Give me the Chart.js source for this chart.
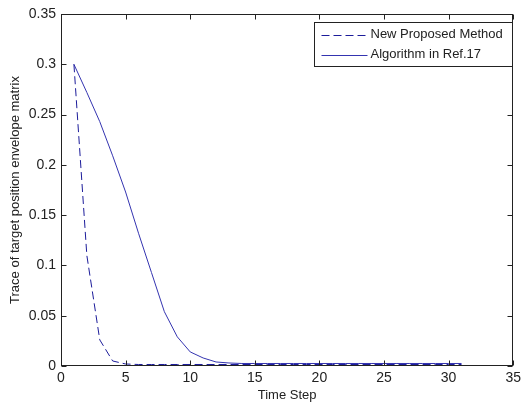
<!DOCTYPE html>
<html>
<head>
<meta charset="utf-8">
<script src="https://cdn.jsdelivr.net/npm/chart.js@4/dist/chart.umd.min.js"></script>
<style>
  html, body { margin: 0; padding: 0; background: #fff; }
  #plot { display: block; }
</style>
</head>
<body>
<canvas id="plot" width="525" height="405"></canvas>
<script>
const timeSteps = [1, 2, 3, 4, 5, 6, 7, 8, 9, 10, 11, 12, 13, 14, 15, 16,
    17, 18, 19, 20, 21, 22, 23, 24, 25, 26, 27, 28, 29, 30, 31];

const proposedTrace = [0.300, 0.110, 0.026, 0.005, 0.002, 0.0015, 0.0015, 0.0015,
    0.0015, 0.0015, 0.0015, 0.0015, 0.0015, 0.0015, 0.0015, 0.0015, 0.0015, 0.0015,
    0.0015, 0.0015, 0.0015, 0.0015, 0.0015, 0.0015, 0.0015, 0.0015, 0.0015, 0.0015,
    0.0015, 0.0015, 0.0015];

const refTrace = [0.300, 0.272, 0.243, 0.209, 0.173, 0.132, 0.093, 0.054, 0.029,
    0.014, 0.008, 0.004, 0.003, 0.0025, 0.0025, 0.0025, 0.0025, 0.0025, 0.0025,
    0.0025, 0.0025, 0.0025, 0.0025, 0.0025, 0.0025, 0.0025, 0.0025, 0.0025, 0.0025,
    0.0025, 0.0025];

const seriesLabels = ['New Proposed Method', 'Algorithm in Ref.17'];
const xTitle = 'Time Step';
const yTitle = 'Trace of target position envelope matrix';

const FONT = 'Arial, "Liberation Sans", Helvetica, sans-serif';
const INK = '#222';

const toPoints = (ys) => timeSteps.map((x, i) => ({ x, y: ys[i] }));

// box around the axes with inward ticks on every side, matlab style
const axesBox = {
    id: 'axesBox',
    afterDatasetsDraw(chart) {
        const { ctx, chartArea: a, scales } = chart;
        const L = Math.round(a.left) + 0.5, R = Math.round(a.right) - 0.5;
        const T = Math.round(a.top) + 0.5, B = Math.round(a.bottom) - 0.5;
        const len = 5;
        ctx.save();
        ctx.strokeStyle = INK;
        ctx.lineWidth = 1;
        ctx.setLineDash([]);
        ctx.strokeRect(L, T, R - L, B - T);
        ctx.beginPath();
        scales.x.ticks.forEach(t => {
            const px = Math.round(scales.x.getPixelForValue(t.value)) + 0.5;
            ctx.moveTo(px, B); ctx.lineTo(px, B - len);
            ctx.moveTo(px, T); ctx.lineTo(px, T + len);
        });
        scales.y.ticks.forEach(t => {
            const py = Math.round(scales.y.getPixelForValue(t.value)) + 0.5;
            ctx.moveTo(L, py); ctx.lineTo(L + len, py);
            ctx.moveTo(R, py); ctx.lineTo(R - len, py);
        });
        ctx.stroke();
        ctx.restore();
    }
};

// boxed legend in the upper right corner of the axes
const boxedLegend = {
    id: 'boxedLegend',
    afterDraw(chart) {
        const { ctx, chartArea: a } = chart;
        const w = 198, h = 44;
        const x0 = Math.round(a.right) - 1 - w + 0.5;
        const y0 = Math.round(a.top) + 8 + 0.5;
        ctx.save();
        ctx.fillStyle = '#fff';
        ctx.fillRect(x0, y0, w, h);
        ctx.strokeStyle = INK;
        ctx.lineWidth = 1;
        ctx.strokeRect(x0, y0, w, h);
        ctx.font = '13px ' + FONT;
        ctx.textBaseline = 'middle';
        chart.data.datasets.forEach((ds, i) => {
            const cy = y0 + 12 + i * 20;
            ctx.strokeStyle = ds.borderColor;
            ctx.setLineDash(ds.borderDash || []);
            ctx.beginPath();
            ctx.moveTo(x0 + 7, Math.round(cy) + 0.5);
            ctx.lineTo(x0 + 53, Math.round(cy) + 0.5);
            ctx.stroke();
            ctx.setLineDash([]);
            ctx.fillStyle = INK;
            ctx.fillText(ds.label, x0 + 56, cy);
        });
        ctx.restore();
    }
};

new Chart(document.getElementById('plot'), {
    type: 'line',
    data: {
        datasets: [
            {
                label: seriesLabels[0],
                data: toPoints(proposedTrace),
                borderColor: '#1c1c9a',
                borderWidth: 1,
                borderDash: [8, 4],
                pointRadius: 0,
                tension: 0
            },
            {
                label: seriesLabels[1],
                data: toPoints(refTrace),
                borderColor: '#3434b0',
                borderWidth: 1,
                pointRadius: 0,
                tension: 0
            }
        ]
    },
    plugins: [axesBox, boxedLegend],
    options: {
        responsive: false,
        animation: false,
        layout: { autoPadding: false, padding: { top: 14, right: 9, left: 0, bottom: 0 } },
        plugins: {
            legend: { display: false },
            tooltip: { enabled: false }
        },
        scales: {
            x: {
                type: 'linear',
                min: 0,
                max: 35,
                grid: { display: false, drawTicks: false },
                border: { display: false },
                ticks: {
                    stepSize: 5,
                    padding: 4,
                    color: INK,
                    font: { family: FONT, size: 14 },
                    maxRotation: 0
                },
                title: {
                    display: true,
                    text: xTitle,
                    color: INK,
                    padding: { top: 0, bottom: 2 },
                    font: { family: FONT, size: 13 }
                },
                afterFit: (scale) => { scale.height = 39; }
            },
            y: {
                min: 0,
                max: 0.35,
                grid: { display: false, drawTicks: false },
                border: { display: false },
                ticks: {
                    stepSize: 0.05,
                    padding: 5,
                    color: INK,
                    font: { family: FONT, size: 14 },
                    callback: (v) => +v.toFixed(2)
                },
                title: {
                    display: true,
                    text: yTitle,
                    color: INK,
                    padding: { top: 8, bottom: 0 },
                    font: { family: FONT, size: 13 }
                },
                afterFit: (scale) => { scale.width = 61; }
            }
        }
    }
});
</script>
</body>
</html>
